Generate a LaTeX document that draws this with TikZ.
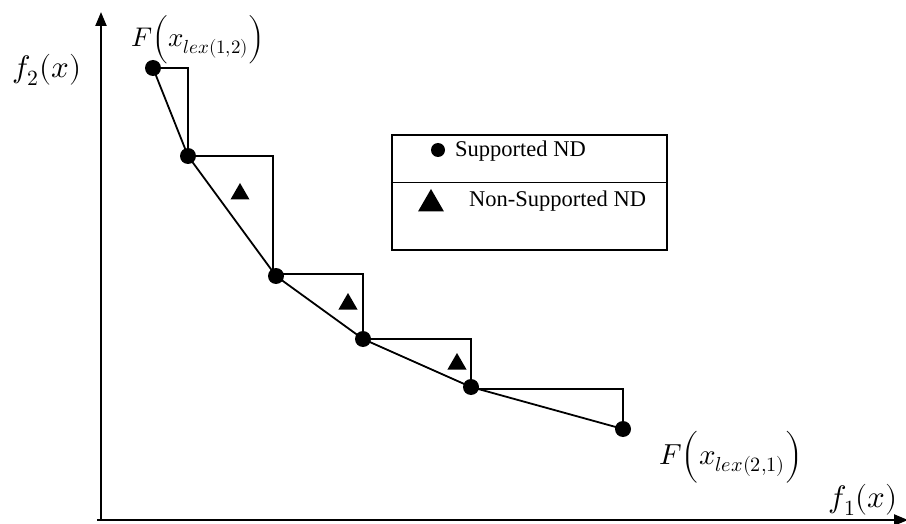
\documentclass[tikz,border=0pt]{standalone}
\usepackage{fontspec}
\setmainfont{Liberation Serif}
\usepackage{unicode-math}
\setmathfont{Latin Modern Math}
\usetikzlibrary{arrows.meta,shapes.geometric}
\begin{document}
\begin{tikzpicture}[x=1pt,y=-1pt,
  curve/.style={line width=1.8pt},
  pt/.style={circle,fill=black,inner sep=0pt,minimum size=16pt},
  tri/.style={regular polygon,regular polygon sides=3,fill=black,inner sep=0pt,minimum size=22pt},
  lab/.style={inner sep=0pt,font=\fontsize{29}{32}\selectfont},
  legtext/.style={inner sep=0pt,anchor=west,font=\fontsize{22.5}{26}\selectfont}]
\useasboundingbox (0,0) rectangle (906,524);
% axes
\coordinate (O) at (101,520);
\coordinate (Ytop) at (101,12);
\coordinate (Xend) at (908,520);
\draw[line width=2.2pt,-{Triangle[length=14pt,width=11pt]}] (O) -- (Ytop);
\draw[line width=2.2pt,-{Triangle[length=14pt,width=11pt]}] (97,520) -- (Xend);
% points
\node[pt] (p1) at (153,68) {};
\node[pt] (p2) at (188,156) {};
\node[pt] (p3) at (276,276) {};
\node[pt] (p4) at (363,339) {};
\node[pt] (p5) at (471,387) {};
\node[pt] (p6) at (623,429) {};
\draw[curve] (p1.center) -- (p2.center) -- (p3.center) -- (p4.center) -- (p5.center) -- (p6.center);
% steps
\draw[curve] (p1.center) -| (p2.center);
\draw[curve] (p2.center) -| (273,274) -- (p3.center);
\draw[curve] (p3.center) ++(0,-2) -| (p4.center);
\draw[curve] (p4.center) -| (p5.center);
\draw[curve] (p5.center) ++(0,2) -| (p6.center);
% triangles (non-supported)
\node[tri] (t1) at (240,194) {};
\node[tri] (t2) at (348,304) {};
\node[tri] (t3) at (457,364) {};
% legend
\node[draw,line width=2.5pt,minimum width=275pt,minimum height=115pt,inner sep=0pt] (leg) at (529.5,192.5) {};
\draw[line width=1pt] (leg.west |- 0,183) -- (leg.east |- 0,183);
\node[pt,minimum size=14pt] (lp) at (438,150) {};
\node[legtext] (lt1) at (455,151) {Supported ND};
\node[tri,minimum size=30pt] (lq) at (431,204) {};
\node[legtext] (lt2) at (469,201) {Non-Supported ND};
% labels
\node[lab,font=\fontsize{27}{30}\selectfont] (L1) at (198,40) {$F\Big(x_{lex(1,2)}\Big)$};
\node[lab,font=\fontsize{31}{34}\selectfont] (L2) at (47,70) {$f_2(x)$};
\node[lab] (L3) at (731,457) {$F\Big(x_{lex(2,1)}\Big)$};
\node[lab,font=\fontsize{31}{34}\selectfont] (L4) at (863,500) {$f_1(x)$};
\end{tikzpicture}
\end{document}
